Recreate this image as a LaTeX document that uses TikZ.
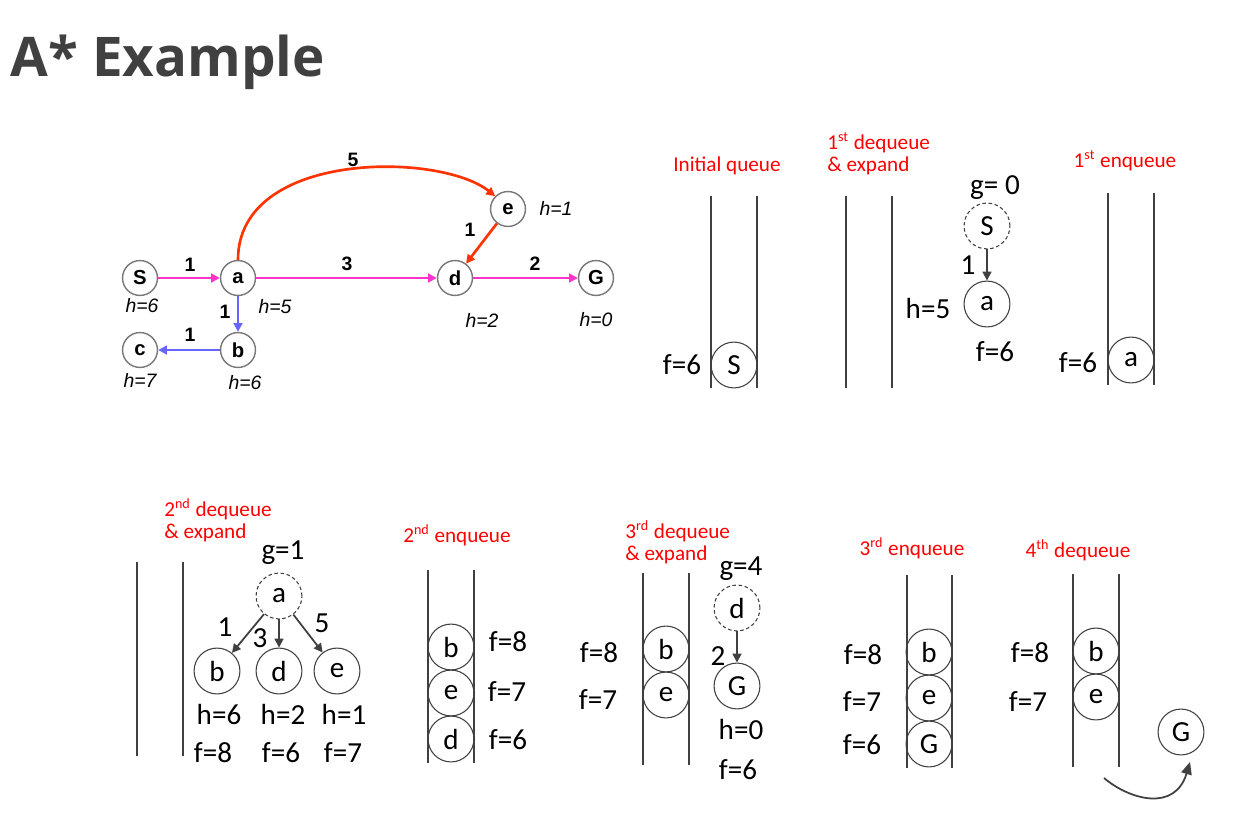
\documentclass[tikz,border=0pt]{standalone}
\usepackage{fontspec}
\usetikzlibrary{arrows.meta}
\newfontfamily\carlito{Carlito}
\newfontfamily\arialf{Liberation Sans}
\newfontfamily\titlef{Open Sans}
\definecolor{pinkE}{RGB}{255,51,204}
\definecolor{redE}{RGB}{255,51,0}
\definecolor{blueE}{RGB}{102,102,255}
\definecolor{gcirc}{RGB}{120,120,120}
\definecolor{dark}{RGB}{64,64,64}
\definecolor{titlegray}{RGB}{64,64,64}
\definecolor{redtxt}{RGB}{255,0,0}
\begin{document}
\begin{tikzpicture}[x=0.5669pt,y=-0.5669pt,
  gnode/.style={circle,draw=gcirc,line width=0.8pt,fill=white,minimum size=19.8pt,inner sep=0pt,font=\arialf\bfseries\fontsize{11.5}{13}\selectfont},
  glab/.style={font=\arialf\bfseries\fontsize{11}{13}\selectfont,inner sep=0pt},
  hlab/.style={font=\arialf\itshape\fontsize{11}{13}\selectfont,inner sep=0pt},
  pinkedge/.style={draw=pinkE,line width=1.5pt,-{Triangle[length=5pt,width=5pt]}},
  rededge/.style={draw=redE,line width=1.5pt,-{Triangle[length=5pt,width=5pt]}},
  blueedge/.style={draw=blueE,line width=1.5pt,-{Triangle[length=5pt,width=5pt]}},
  qnode/.style={circle,draw=dark,line width=0.6pt,minimum size=26pt,inner sep=0pt,font=\carlito\fontsize{16.5}{18}\selectfont},
  dnode/.style={qnode,dashed,dash pattern=on 2pt off 1.5pt},
  txt/.style={font=\carlito\fontsize{16.5}{18}\selectfont,inner sep=0pt},
  redlab/.style={font=\carlito\fontsize{12}{12.5}\selectfont,text=redtxt,inner sep=0pt,align=left},
  wall/.style={draw=dark,line width=0.6pt},
  qarrow/.style={draw=dark,line width=1pt,-{Triangle[length=5pt,width=5pt]}}
]
\useasboundingbox (0,0) rectangle (1251,829);
\fill[white] (0,0) rectangle (1251,829);

% Title
\node[anchor=base west,font=\titlef\bfseries\fontsize{31}{36}\selectfont,text=titlegray,inner sep=0pt] (title) at (10,77) {A* Example};

% ---------------- Graph ----------------
\node[gnode] (S) at (140,278) {S};
\node[gnode] (a) at (238,278) {a};
\node[gnode] (d) at (455,278) {d};
\node[gnode] (G) at (596,278) {G};
\node[gnode] (e) at (508,209) {e};
\node[gnode] (b) at (238,350) {b};
\node[gnode] (c) at (140,350) {c};

\draw[pinkedge] (S) -- (a);
\draw[pinkedge] (a) -- (d);
\draw[pinkedge] (d) -- (G);
\draw[rededge] (a.north) .. controls (238,150) and (440,152) .. (e.north west);
\draw[rededge] (e) -- (d);
\draw[blueedge] (a) -- (b);
\draw[blueedge] (b) -- (c);

\node[glab] (l1) at (190,265) {1};
\node[glab] (l3) at (347,264) {3};
\node[glab] (l2) at (535,264) {2};
\node[glab] (l5) at (353,160) {5};
\node[glab] (l1b) at (470,230) {1};
\node[glab] (l1c) at (225,312) {1};
\node[glab] (l1d) at (190,335) {1};

\node[hlab] (hS) at (142,306) {h=6};
\node[hlab] (ha) at (275,307) {h=5};
\node[hlab] (hd) at (482,320) {h=2};
\node[hlab] (hG) at (596,320) {h=0};
\node[hlab] (he) at (556,208) {h=1};
\node[hlab] (hc) at (140,380) {h=7};
\node[hlab] (hb) at (245,383) {h=6};

% ---------------- Initial queue ----------------
\node[redlab] (t1) at (727,166) {Initial queue};
\draw[wall] (711,196) -- (711,388);
\draw[wall] (757,196) -- (757,388);
\node[qnode] (q1S) at (734,365) {S};
\node[txt] (q1f) at (682,365) {f=6};

% ---------------- 1st dequeue ----------------
\node[redlab,anchor=west] (t2) at (827,154) {1\textsuperscript{st} dequeue\\\& expand};
\draw[wall] (846,196) -- (846,388);
\draw[wall] (892,196) -- (892,388);
\node[txt] (g0) at (995,188) {g= 0};
\node[dnode] (x1S) at (987,226) {S};
\node[qnode] (x1a) at (987,304) {a};
\draw[qarrow] (x1S) -- (x1a);
\node[txt] (x1w) at (968,265) {1};
\node[txt] (x1h) at (928,308) {h=5};
\node[txt] (x1f) at (995,352) {f=6};

% ---------------- 1st enqueue ----------------
\node[redlab] (t3) at (1125,161) {1\textsuperscript{st} enqueue};
\draw[wall] (1108,193) -- (1108,385);
\draw[wall] (1154,193) -- (1154,385);
\node[qnode] (q3a) at (1131,360) {a};
\node[txt] (q3f) at (1078,363) {f=6};

% ---------------- 2nd dequeue ----------------
\node[redlab,anchor=west] (t4) at (164,520) {2\textsuperscript{nd} dequeue\\\& expand};
\draw[wall] (137,562) -- (137,756);
\draw[wall] (183,562) -- (183,756);
\node[txt] (g1) at (283,553) {g=1};
\node[dnode] (x2a) at (279,596) {a};
\node[qnode] (x2b) at (217,671) {b};
\node[qnode] (x2d) at (279,671) {d};
\node[qnode] (x2e) at (337,671) {e};
\draw[qarrow] (x2a) -- (x2b);
\draw[qarrow] (x2a) -- (x2d);
\draw[qarrow] (x2a) -- (x2e);
\node[txt] (w1) at (225,627) {1};
\node[txt] (w3) at (260,638) {3};
\node[txt] (w5) at (322,623) {5};
\node[txt] (h6) at (219,714) {h=6};
\node[txt] (h2) at (283,714) {h=2};
\node[txt] (h1) at (344,714) {h=1};
\node[txt] (f8) at (213,753) {f=8};
\node[txt] (f6) at (281,753) {f=6};
\node[txt] (f7) at (343,753) {f=7};

% ---------------- 2nd enqueue ----------------
\node[redlab] (t5) at (457,535) {2\textsuperscript{nd} enqueue};
\draw[wall] (428,570) -- (428,763);
\draw[wall] (474,570) -- (474,763);
\node[qnode] (q5b) at (451,647) {b};
\node[qnode] (q5e) at (451,693) {e};
\node[qnode] (q5d) at (451,739) {d};
\node[txt] (q5f8) at (508,642) {f=8};
\node[txt] (q5f7) at (507,692) {f=7};
\node[txt] (q5f6) at (508,740) {f=6};

% ---------------- 3rd dequeue ----------------
\node[redlab,anchor=west] (t6) at (625,542) {3\textsuperscript{rd} dequeue\\\& expand};
\draw[wall] (643,573) -- (643,765);
\draw[wall] (689,573) -- (689,765);
\node[qnode] (q6b) at (666,649) {b};
\node[qnode] (q6e) at (666,695) {e};
\node[txt] (q6f8) at (599,653) {f=8};
\node[txt] (q6f7) at (598,700) {f=7};
\node[txt] (g4) at (741,569) {g=4};
\node[dnode] (x6d) at (737,608) {d};
\node[qnode] (x6G) at (737,686) {G};
\draw[qarrow] (x6d) -- (x6G);
\node[txt] (x6w) at (718,656) {2};
\node[txt] (x6h) at (741,729) {h=0};
\node[txt] (x6f) at (738,770) {f=6};

% ---------------- 3rd enqueue ----------------
\node[redlab] (t7) at (912,548) {3\textsuperscript{rd} enqueue};
\draw[wall] (907,575) -- (907,768);
\draw[wall] (952,575) -- (952,768);
\node[qnode] (q7b) at (929,652) {b};
\node[qnode] (q7e) at (929,698) {e};
\node[qnode] (q7G) at (929,744) {G};
\node[txt] (q7f8) at (863,655) {f=8};
\node[txt] (q7f7) at (862,702) {f=7};
\node[txt] (q7f6) at (862,745) {f=6};

% ---------------- 4th dequeue ----------------
\node[redlab] (t8) at (1078,550) {4\textsuperscript{th} dequeue};
\draw[wall] (1073,574) -- (1073,767);
\draw[wall] (1119,574) -- (1119,767);
\node[qnode] (q8b) at (1096,651) {b};
\node[qnode] (q8e) at (1096,697) {e};
\node[txt] (q8f8) at (1030,653) {f=8};
\node[txt] (q8f7) at (1028,702) {f=7};
\node[qnode] (q8G) at (1181,732) {G};
\coordinate (arrS) at (1104,778);
\coordinate (arrE) at (1190,762);
\draw[draw=dark,line width=1pt,-{Triangle[length=7pt,width=6pt]}] (arrS) .. controls (1130,800) and (1175,812) .. (arrE);
\end{tikzpicture}
\end{document}
